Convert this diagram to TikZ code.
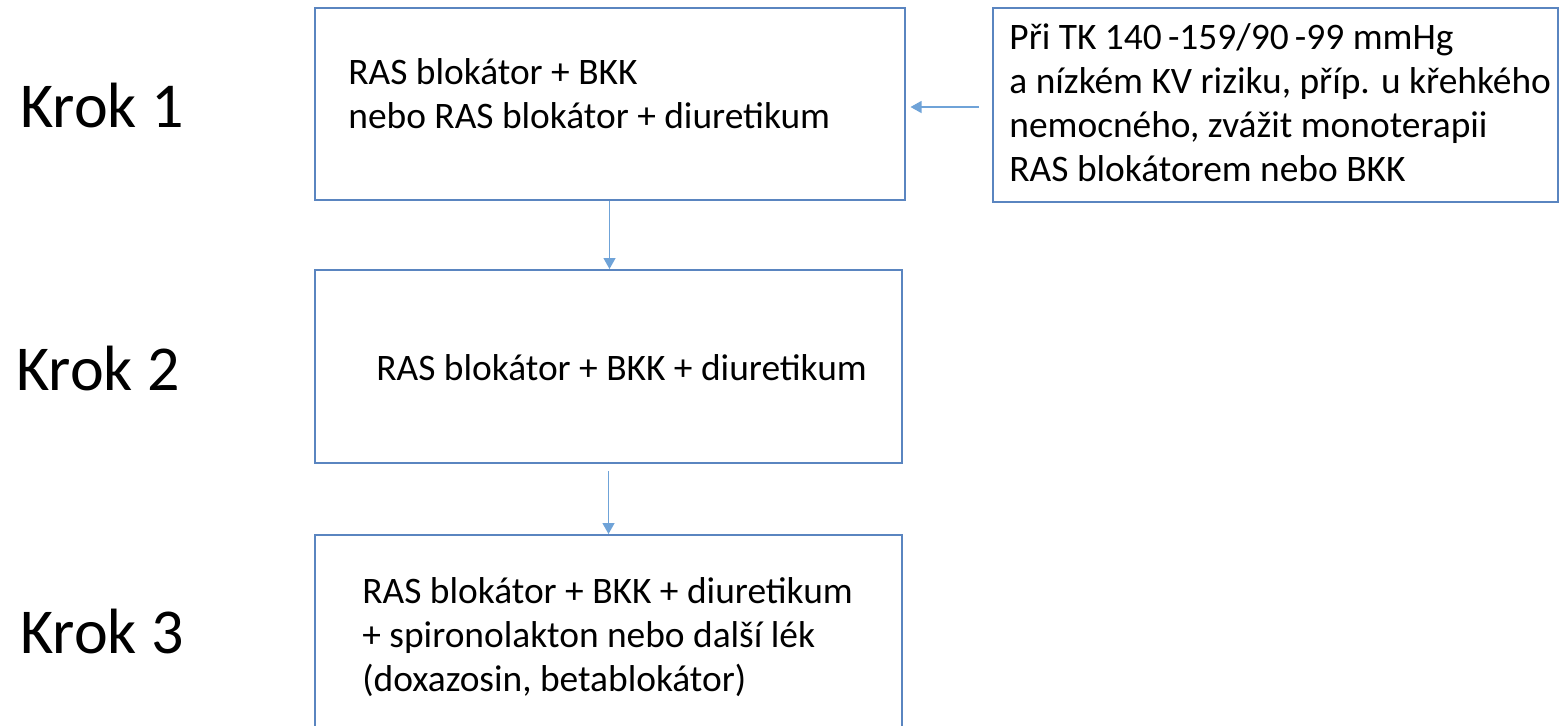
\documentclass[tikz,border=0pt]{standalone}
\usepackage{fontspec}
\setmainfont{Carlito}
\usetikzlibrary{arrows.meta}
\definecolor{boxblue}{HTML}{5A85C0}
\definecolor{arrblue}{HTML}{6FA3D8}
\tikzset{
  box/.style={draw=boxblue, line width=1pt, rectangle, inner sep=0pt},
  arr/.style={draw=arrblue, line width=0.6pt, -{Triangle[width=6pt,length=5.5pt]}},
  boxtext/.style={anchor=base west, align=left, inner sep=0pt, font=\fontsize{18.7}{22}\selectfont},
  kroktext/.style={anchor=base west, inner sep=0pt, font=\fontsize{32}{38}\selectfont}
}
\begin{document}
\begin{tikzpicture}[x=0.5pt, y=-0.5pt]
\useasboundingbox (0,0) rectangle (1561,725);
\clip (0,0) rectangle (1561,725);
% boxes
\node[box, minimum width=295pt, minimum height=96pt] (b1) at (609.5,104) {};
\node[box, minimum width=293.5pt, minimum height=96.5pt] (b2) at (608.5,366.5) {};
\node[box, minimum width=293.5pt, minimum height=115pt] (b3) at (608.5,650) {};
\node[box, minimum width=282.5pt, minimum height=97pt] (rb) at (1275.5,105) {};
% texts (anchored at the baseline of the last line)
\node[boxtext] (t1) at (348,128) {RAS blokátor + BKK\\nebo RAS blokátor + diuretikum};
\node[boxtext] (t2) at (376,380) {RAS blokátor + BKK + diuretikum};
\node[boxtext] (t3) at (362,691) {RAS blokátor + BKK + diuretikum\\+ spironolakton nebo další lék\\(doxazosin, betablokátor)};
\node[boxtext] (tr) at (1009,181) {Při TK 140\,-159/90\,-99 mmHg\\a nízkém KV riziku, příp. u křehkého\\nemocného, zvážit monoterapii\\RAS blokátorem nebo BKK};
% step labels
\node[kroktext] (k1) at (20,127) {Krok 1};
\node[kroktext] (k2) at (16,390) {Krok 2};
\node[kroktext] (k3) at (20,653) {Krok 3};
% connectors
\coordinate (ra) at (979,107);
\draw[arr, shorten >=2.5pt] (ra) -- (ra -| b1.east);
\draw[arr] (b1.south) -- (b1.south |- b2.north);
\draw[arr, shorten <=3.5pt] (b2.south) -- (b2.south |- b3.north);
\end{tikzpicture}
\end{document}
